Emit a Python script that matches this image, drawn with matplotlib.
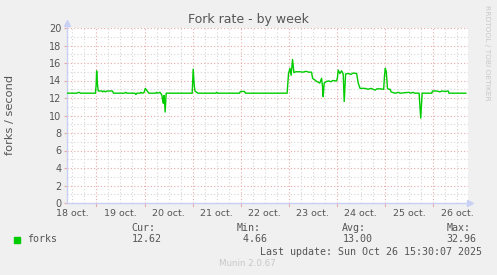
import matplotlib
matplotlib.use("Agg")
import matplotlib.pyplot as plt
from matplotlib.patches import Rectangle
import numpy as np

# ---- data (hours since 18 Oct 00:00, forks/second) ----
hours = [9.3, 14.1, 15.3, 16.1, 23.5, 23.85, 24.1, 24.5, 24.9, 26.7, 27.1, 27.7, 28.5, 29.2,
         32.0, 32.5, 38.0, 38.6, 39.2, 43.2, 43.7, 44.2, 45.7, 46.2, 46.7, 47.7, 48.4, 49.0,
         49.7, 50.2, 53.7, 54.0, 54.7, 55.7, 56.2, 56.7, 57.0, 57.4, 57.8, 58.3, 58.8,
         71.8, 72.3, 72.8, 73.2, 74.0, 74.7, 83.6, 84.0, 84.4, 95.4, 95.9, 97.9, 98.4,
         119.2, 119.9, 120.6, 121.2, 121.9, 122.6, 123.6, 125.6, 127.1, 128.6, 130.1, 131.4,
         131.9, 133.1, 133.9, 134.8, 135.5, 136.4, 136.9, 137.2, 137.7, 138.9, 140.0, 141.0,
         142.0, 143.9, 144.3, 144.7, 145.5, 146.4, 147.2, 147.7, 148.4, 149.6, 151.1, 152.1,
         153.9, 154.7, 155.6, 158.1, 159.6, 161.1, 163.1, 164.1, 165.7, 166.7, 167.4, 167.8,
         168.2, 168.7, 169.3, 169.9, 170.6, 171.1, 172.3, 173.1, 174.8, 175.6, 180.1, 180.8,
         182.1, 182.8, 185.1, 185.4, 185.9, 186.6, 191.4, 191.8, 193.9, 195.5, 196.5, 198.0,
         199.6, 200.0, 208.4]
forks = [12.55, 12.55, 12.65, 12.55, 12.55, 13.5, 15.1, 13.6, 12.8, 12.8, 12.7, 12.8, 12.7, 12.8,
         12.8, 12.55, 12.55, 12.65, 12.55, 12.55, 12.4, 12.55, 12.55, 12.65, 12.55, 12.6, 13.1, 12.9,
         12.7, 12.55, 12.55, 12.65, 12.55, 12.65, 12.5, 12.3, 11.8, 11.4, 12.3, 10.4, 12.55,
         12.55, 15.3, 13.5, 12.8, 12.65, 12.55, 12.55, 12.65, 12.55, 12.55, 12.75, 12.75, 12.55,
         12.55, 14.8, 15.4, 14.6, 16.4, 14.9, 15.0, 15.0, 14.95, 15.05, 14.95, 14.95,
         14.25, 14.05, 13.9, 13.8, 13.7, 14.25, 13.2, 12.15, 13.7, 13.9, 13.95, 13.85,
         14.0, 13.95, 14.3, 15.2, 14.8, 15.1, 14.75, 11.6, 14.75, 14.8, 14.7, 14.85,
         14.8, 13.7, 13.1, 13.1, 13.0, 13.1, 12.9, 13.05, 13.05, 13.0, 13.0, 14.5,
         15.4, 15.0, 13.1, 13.0, 13.0, 12.7, 12.6, 12.55, 12.65, 12.55, 12.65, 12.55,
         12.65, 12.55, 12.55, 11.4, 9.7, 12.55, 12.55, 12.8, 12.8, 12.7, 12.8, 12.75,
         12.8, 12.55, 12.55]

day_labels = ["18 oct.", "19 oct.", "20 oct.", "21 oct.", "22 oct.",
              "23 oct.", "24 oct.", "25 oct.", "26 oct."]
y_ticks = [0, 2, 4, 6, 8, 10, 12, 14, 16, 18, 20]

series_name = "forks"
cur_v, min_v, avg_v, max_v = 12.62, 4.66, 13.00, 32.96
title = "Fork rate - by week"
ylabel = "forks / second"
last_update = "Last update: Sun Oct 26 15:30:07 2025"
footer = "Munin 2.0.67"
side_text = "RRDTOOL / TOBI OETIKER"

# ---- figure ----
W, H = 497, 275
fig = plt.figure(figsize=(W / 100, H / 100), dpi=100, facecolor="#F0F0F0")

def fx(px):
    return px / W

def fy(py):
    return 1 - py / H

L, R, T, B = 67, 468, 28, 203
ax = fig.add_axes([fx(L), fy(B), (R - L) / W, (B - T) / H])
ax.set_facecolor("white")
xmin, xmax = 9.3, 209.5
ax.set_xlim(xmin, xmax)
ax.set_ylim(0, 20)

major_c = "#E8A8A8"
minor_c = "#D4D4D4"
axis_c = "#C8D0F4"
text_c = "#555555"
dots = (0, (1, 2))

# grid
for v in range(1, 20):
    ax.axhline(v, color=major_c if v % 2 == 0 else minor_c, lw=0.8, ls=dots, zorder=1)
ax.axhline(20, color=major_c, lw=0.8, ls=dots, zorder=1)
for h in np.arange(12, xmax, 6):
    ax.axvline(h, color=major_c if h % 24 == 0 else minor_c, lw=0.8, ls=dots, zorder=1)

ax.plot(hours, forks, color="#00CC00", lw=1.0, zorder=3)

for s in ["top", "right"]:
    ax.spines[s].set_visible(False)
ax.spines["left"].set_color(axis_c)
ax.spines["bottom"].set_color(axis_c)
ax.spines["left"].set_linewidth(1)
ax.spines["bottom"].set_linewidth(1)

# arrows
ax.plot([xmin], [20.6], marker="^", color=axis_c, ms=4, clip_on=False, zorder=4)
ax.plot([xmax + 0.8], [0], marker=">", color=axis_c, ms=4, clip_on=False, zorder=4)
ax.plot([xmin, xmin], [20, 20.6], color=axis_c, lw=1, clip_on=False)

ax.set_yticks(y_ticks)
ax.set_yticklabels([str(v) for v in y_ticks])
ax.tick_params(axis="y", length=2, color=major_c, labelsize=7, labelcolor=text_c, pad=2)
noon = [12 + 24 * i for i in range(len(day_labels))]
ax.set_xticks(noon)
ax.set_xticklabels(day_labels)
ax.tick_params(axis="x", length=0, labelsize=6.8, labelcolor=text_c, pad=4)
for h in range(24, int(xmax), 24):
    ax.plot([h, h], [0, -0.35], color=major_c, lw=0.8, clip_on=False)

# texts
fig.text(fx(248), fy(19), title, ha="center", va="center", fontsize=9, color=text_c)
fig.text(fx(10), fy(115), ylabel, ha="center", va="center", rotation=90, fontsize=8.2, color=text_c)
fig.text(fx(487.5), fy(5), side_text, ha="center", va="top", rotation=270, fontsize=5.4, color="#C8C8C8")

mono = "DejaVu Sans Mono"
fs = 7.2
fig.patches.append(Rectangle((fx(14), fy(242.5)), 6 / W, 6 / H, transform=fig.transFigure,
                             color="#00CC00"))
fig.text(fx(26.7), fy(239.5), series_name, ha="left", va="center", family=mono, fontsize=fs, color=text_c)
cols = [("Cur:", cur_v, 131.7), ("Min:", min_v, 236.7), ("Avg:", avg_v, 342.3), ("Max:", max_v, 446.7)]
for lab, val, x in cols:
    fig.text(fx(x), fy(227.7), lab, ha="left", va="center", family=mono, fontsize=fs, color=text_c)
    fig.text(fx(x), fy(239.5), f"{val:5.2f}", ha="left", va="center", family=mono, fontsize=fs, color=text_c)
fig.text(fx(482.3), fy(251.7), last_update, ha="right", va="center", family=mono, fontsize=fs, color=text_c)
fig.text(fx(247.8), fy(264), footer, ha="center", va="center", fontsize=6.3, color="#C8C8C8")

fig.savefig("out.png", dpi=100, facecolor=fig.get_facecolor())
